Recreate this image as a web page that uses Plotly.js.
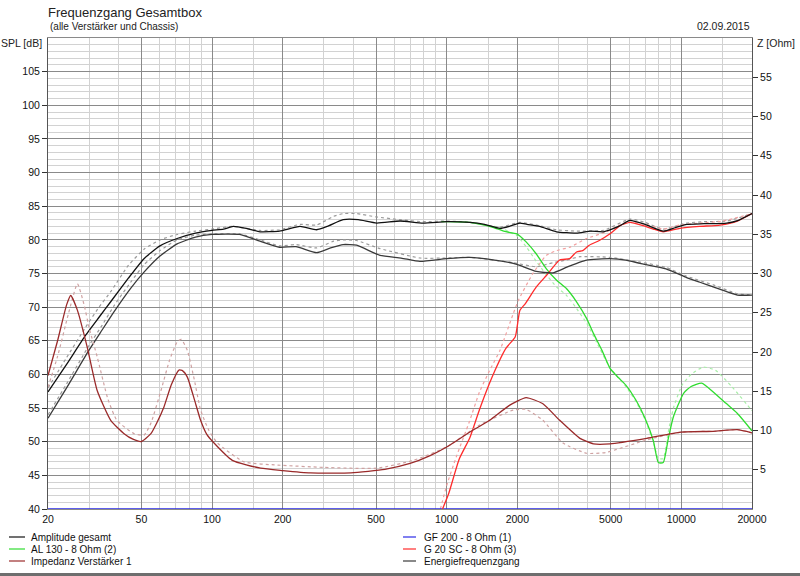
<!DOCTYPE html>
<html>
<head>
<meta charset="utf-8">
<script src="https://cdn.plot.ly/plotly-3.0.1.min.js"></script>
<style>html,body{margin:0;padding:0;background:#fff;}#chart{width:800px;height:576px;}</style>
</head>
<body>
<div id="chart"></div>
<script>
// ---------- data ----------
const ampFreq = [20, 24, 28.9, 33, 37, 44, 51.3, 60, 71, 85, 100, 112, 123, 140, 160, 194, 237, 279, 310, 362, 420, 503, 633, 792, 1000, 1255, 1450, 1687, 1850, 2050, 2200, 2488, 2939, 3575, 4100, 4646, 5400, 6040, 7000, 8370, 9400, 10530, 12500, 15600, 17500, 20000];
const ampSpl  = [57.4, 61.5, 65.8, 68.5, 70.8, 74.3, 77.2, 79.1, 80.2, 81.0, 81.4, 81.6, 82.0, 81.7, 81.2, 81.3, 82.0, 81.5, 82.0, 83.0, 83.0, 82.5, 82.8, 82.5, 82.7, 82.6, 82.3, 81.7, 82.0, 82.5, 82.3, 82.0, 81.2, 81.0, 81.3, 81.2, 82.0, 82.9, 82.3, 81.3, 81.8, 82.3, 82.4, 82.5, 82.9, 83.9];

const ampRefFreq = [20, 24, 28.9, 33, 37, 44, 51.3, 60, 71, 85, 100, 123, 160, 194, 237, 279, 330, 362, 413, 503, 633, 792, 1000, 1255, 1687, 2050, 2488, 2939, 3575, 4646, 6040, 7000, 8370, 10530, 12500, 15600, 20000];
const ampRefSpl  = [58.0, 62.5, 67.0, 70.0, 72.3, 76.2, 78.6, 80.0, 80.8, 81.3, 81.6, 82.0, 81.4, 81.5, 82.3, 82.2, 83.5, 83.9, 83.9, 83.4, 83.0, 82.7, 82.8, 82.6, 81.9, 82.6, 82.1, 81.5, 81.3, 81.4, 83.1, 82.6, 81.6, 82.5, 82.7, 82.8, 83.9];

const enFreq = [20, 24, 29.9, 34, 38.2, 45, 51.3, 60, 71, 85, 100, 131, 160, 194, 228, 279, 320, 362, 413, 520, 640, 769, 1000, 1255, 1600, 1922, 2050, 2410, 2830, 3230, 3697, 3950, 4965, 5800, 6670, 8600, 10530, 12000, 13670, 17330, 20000];
const enSpl  = [53.5, 58.0, 63.6, 66.6, 69.3, 72.8, 75.2, 77.6, 79.4, 80.4, 80.8, 80.8, 79.8, 78.9, 79.0, 78.1, 78.8, 79.3, 79.2, 77.7, 77.3, 76.8, 77.2, 77.4, 77.0, 76.5, 76.2, 75.3, 75.1, 75.9, 76.7, 77.0, 77.2, 77.0, 76.5, 75.7, 74.4, 73.7, 73.0, 71.8, 71.8];

const enRefFreq = [20, 24, 29.9, 34, 38.2, 45, 51.3, 60, 71, 85, 100, 131, 160, 194, 228, 279, 330, 362, 413, 520, 769, 1000, 1255, 1922, 2410, 2830, 3230, 3697, 4965, 6670, 8600, 10530, 13670, 17330, 20000];
const enRefSpl  = [54.0, 58.6, 64.3, 67.3, 70.2, 73.7, 76.3, 78.4, 80.0, 80.7, 80.9, 80.9, 80.0, 79.1, 79.3, 78.8, 79.8, 80.0, 79.9, 78.7, 77.3, 77.3, 77.4, 76.6, 76.0, 76.6, 77.0, 77.5, 77.4, 76.7, 75.9, 74.6, 73.3, 72.0, 71.8];

const midFreq = [950, 1000, 1255, 1400, 1560, 1750, 1922, 1990, 2180, 2410, 2660, 2940, 3230, 3575, 3950, 4220, 4600, 4965, 5400, 5800, 6400, 7000, 7590, 7980, 8370, 8800, 9250, 10220, 11000, 12200, 13670, 15500, 17330, 19900, 20000];
const midSpl  = [82.7, 82.7, 82.6, 82.3, 81.9, 81.3, 81.0, 80.9, 79.7, 77.9, 75.7, 74.0, 72.8, 70.8, 68.3, 66.1, 63.5, 60.9, 59.5, 58.4, 56.2, 53.5, 50.2, 46.9, 46.9, 50.5, 53.7, 57.2, 58.2, 58.7, 57.4, 55.7, 54.2, 51.7, 51.6];

const midRefFreq = [1255, 1687, 1990, 2180, 2410, 2660, 2940, 3230, 3575, 3950, 4220, 4965, 5800, 6400, 7000, 7590, 7980, 8370, 8800, 9250, 10060, 11000, 12400, 14000, 16400, 19900, 20000];
const midRefSpl  = [82.6, 81.8, 80.6, 79.0, 76.8, 74.8, 73.0, 71.8, 69.8, 67.6, 65.7, 61.0, 58.2, 56.0, 53.3, 50.0, 47.5, 47.5, 51.5, 55.0, 58.4, 60.0, 61.1, 60.6, 58.2, 54.7, 54.6];

const twFreq = [960, 1020, 1130, 1255, 1380, 1570, 1790, 1960, 2050, 2160, 2410, 2660, 3030, 3340, 3575, 3800, 4050, 4470, 4965, 5480, 6040, 6880, 7600, 8370, 9840, 11940, 14600, 17330, 20000];
const twSpl  = [40.0, 42.3, 47.4, 50.6, 54.8, 59.8, 63.9, 65.6, 69.5, 70.5, 73.0, 74.7, 77.0, 77.2, 78.2, 78.4, 79.2, 79.9, 80.9, 82.1, 82.6, 82.1, 81.6, 81.2, 81.7, 82.0, 82.2, 82.8, 83.9];

const twRefFreq = [940, 1000, 1100, 1250, 1380, 1520, 1687, 1920, 2020, 2330, 2660, 2940, 3340, 3950, 4800, 5800, 6880, 8370, 9840, 12000, 15000, 20000];
const twRefSpl  = [40.0, 43.5, 47.8, 53.0, 57.4, 60.5, 63.6, 69.0, 71.0, 75.0, 77.7, 78.4, 78.9, 80.2, 81.2, 82.6, 82.4, 81.6, 82.2, 82.5, 82.8, 83.9];

const wooferFreq = [20, 20000];
const wooferSpl  = [40, 40];

const impFreq = [20, 22, 24, 25, 26.7, 29.4, 32.4, 37, 42.2, 46, 50, 54.9, 58, 62.4, 67, 72.3, 75, 78.5, 84, 89.4, 95, 102, 122, 161, 200, 263, 391, 545, 698, 850, 1000, 1255, 1525, 1850, 2180, 2570, 3030, 3697, 4220, 4965, 7120, 9950, 13670, 17330, 20000];
const impOhm  = [17.0, 21.5, 26.0, 27.2, 25.3, 20.6, 15.1, 11.3, 9.6, 8.9, 8.6, 9.6, 10.9, 13.0, 15.8, 17.7, 17.6, 16.8, 14.0, 11.3, 9.5, 8.4, 6.2, 5.2, 4.9, 4.6, 4.6, 5.05, 5.8, 6.8, 7.9, 9.8, 11.3, 13.2, 14.2, 13.4, 11.3, 9.0, 8.3, 8.3, 9.0, 9.8, 9.9, 10.1, 9.7];

const impRefFreq = [20, 22, 24.5, 26.7, 28.5, 30, 32.4, 36, 39.3, 46.5, 51.3, 55, 60.6, 66, 71.1, 74, 78.5, 84, 89.4, 97, 105.5, 137, 190, 300, 505, 722, 1000, 1380, 1922, 2180, 2570, 3130, 3950, 4770, 7120, 9950, 13670, 17330, 20000];
const impRefOhm  = [15.5, 19.5, 25.0, 28.7, 26.0, 23.0, 19.4, 14.0, 11.3, 9.6, 9.4, 11.0, 15.1, 19.0, 21.3, 21.6, 20.2, 16.5, 12.6, 10.0, 8.4, 6.0, 5.6, 5.3, 5.2, 6.2, 7.9, 10.7, 12.6, 12.7, 11.3, 8.4, 7.1, 7.2, 8.8, 9.8, 9.9, 10.1, 9.7];

const xTickVals = [20, 50, 100, 200, 500, 1000, 2000, 5000, 10000, 20000];
const xTickText = ['20', '50', '100', '200', '500', '1000', '2000', '5000', '10000', '20000'];
const xMinorVals = [30, 40, 60, 70, 80, 90, 150, 300, 400, 600, 700, 800, 900, 1500, 3000, 4000, 6000, 7000, 8000, 9000, 15000];
const splTicks = [40, 45, 50, 55, 60, 65, 70, 75, 80, 85, 90, 95, 100, 105];
const ohmTicks = [5, 10, 15, 20, 25, 30, 35, 40, 45, 50, 55];

const legendNames = ['Amplitude gesamt', 'AL 130 - 8 Ohm (2)', 'Impedanz Verstärker 1', 'GF 200 - 8 Ohm (1)', 'G 20 SC - 8 Ohm (3)', 'Energiefrequenzgang'];

// ---------- styling ----------
const FONT = 'Liberation Sans, Arial, sans-serif';
const C = {
  amp: '#111111', en: '#3a3a3a', mid: '#2fdc2f', woofer: '#2a2ae6', tw: '#ff2b2b', imp: '#9a2a2a',
  greyRef: '#9a9a9a', midRef: '#a8eea8', twRef: '#f2a0a0', impRef: '#cfa2a2'
};
const W = 800, H = 576, L = 48, R = 752, T = 38, B = 509;
const px2x = p => (p - L) / (R - L);
const px2y = p => (B - p) / (B - T);

function tr(x, y, name, color, opts) {
  opts = opts || {};
  return {
    type: 'scatter', mode: 'lines', x: x, y: y, name: name,
    yaxis: opts.y2 ? 'y2' : 'y', showlegend: false, hoverinfo: 'skip',
    line: {color: color, width: opts.width || 1.3, dash: opts.dash || 'solid', shape: 'spline', smoothing: 0.5}
  };
}

const traces = [
  tr(impRefFreq, impRefOhm, 'Impedanz Ref', C.impRef, {y2: true, dash: 'dot', width: 1.2}),
  tr(enRefFreq, enRefSpl, 'Energie Ref', C.greyRef, {dash: 'dot', width: 1.2}),
  tr(ampRefFreq, ampRefSpl, 'Amplitude Ref', C.greyRef, {dash: 'dot', width: 1.2}),
  tr(midRefFreq, midRefSpl, 'AL 130 Ref', C.midRef, {dash: 'dot', width: 1.2}),
  tr(twRefFreq, twRefSpl, 'G 20 SC Ref', C.twRef, {dash: 'dot', width: 1.2}),
  tr(wooferFreq, wooferSpl, legendNames[3], C.woofer, {width: 1.6}),
  tr(midFreq, midSpl, legendNames[1], C.mid),
  tr(twFreq, twSpl, legendNames[4], C.tw),
  tr(enFreq, enSpl, legendNames[5], C.en),
  tr(ampFreq, ampSpl, legendNames[0], C.amp),
  tr(impFreq, impOhm, legendNames[2], C.imp, {y2: true})
];

// manual legend (two columns, three rows)
const legRowsY = [537, 549, 561];
const legCols = [{x0: 9, x1: 25, tx: 29}, {x0: 403, x1: 416, tx: 422}];
const legColors = [C.amp, C.mid, C.imp, C.woofer, C.tw, C.en];
const shapes = [];
const annotations = [];
legendNames.forEach((nm, i) => {
  const col = legCols[Math.floor(i / 3)], row = legRowsY[i % 3];
  shapes.push({type: 'line', xref: 'paper', yref: 'paper', x0: px2x(col.x0), x1: px2x(col.x1), y0: px2y(row), y1: px2y(row),
    line: {color: legColors[i], width: 1.2}});
  annotations.push({xref: 'paper', yref: 'paper', x: px2x(col.tx), y: px2y(row), xanchor: 'left', yanchor: 'middle',
    text: nm, showarrow: false, font: {family: FONT, size: 10, color: '#111'}});
});
// bottom window border
shapes.push({type: 'rect', xref: 'paper', yref: 'paper', x0: px2x(0), x1: px2x(W), y0: px2y(573), y1: px2y(577),
  fillcolor: '#6e6e6e', line: {width: 0}});

annotations.push(
  {xref: 'paper', yref: 'paper', x: px2x(48), y: px2y(26.5), xanchor: 'left', yanchor: 'middle', showarrow: false,
   text: '(alle Verstärker und Chassis)', font: {family: FONT, size: 10, color: '#222'}},
  {xref: 'paper', yref: 'paper', x: px2x(752), y: px2y(26.5), xanchor: 'right', yanchor: 'middle', showarrow: false,
   text: '02.09.2015', font: {family: FONT, size: 10.5, color: '#222'}},
  {xref: 'paper', yref: 'paper', x: px2x(44), y: px2y(43), xanchor: 'right', yanchor: 'middle', showarrow: false,
   text: 'SPL [dB]', font: {family: FONT, size: 10.5, color: '#222'}},
  {xref: 'paper', yref: 'paper', x: px2x(755), y: px2y(43), xanchor: 'left', yanchor: 'middle', showarrow: false,
   text: 'Z [Ohm]', font: {family: FONT, size: 10.5, color: '#222'}}
);

const layout = {
  width: W, height: H,
  margin: {l: L, r: W - R, t: T, b: H - B, pad: 0},
  paper_bgcolor: '#ffffff', plot_bgcolor: '#ffffff',
  font: {family: FONT, size: 10.5, color: '#111'},
  showlegend: false,
  title: {text: 'Frequenzgang Gesamtbox', font: {family: FONT, size: 13, color: '#222'},
    xref: 'paper', x: 0, xanchor: 'left', yref: 'container', y: 1 - 12.7 / H, yanchor: 'middle'},
  xaxis: {
    type: 'log', range: [Math.log10(20), Math.log10(20000)],
    tickmode: 'array', tickvals: xTickVals, ticktext: xTickText,
    ticks: '', showgrid: true, gridcolor: '#8a8a8a', gridwidth: 1,
    minor: {tickmode: 'array', tickvals: xMinorVals, showgrid: true, gridcolor: '#d2d2d2', gridwidth: 1, ticks: ''},
    showline: true, linecolor: '#8a8a8a', linewidth: 1, mirror: true,
    zeroline: false, tickfont: {family: FONT, size: 10.5, color: '#111'}, fixedrange: true
  },
  yaxis: {
    range: [40, 110], tickmode: 'array', tickvals: splTicks,
    ticks: 'outside', ticklen: 5, tickcolor: '#333', tickwidth: 1,
    showgrid: true, gridcolor: '#8a8a8a', gridwidth: 1,
    minor: {tickmode: 'linear', tick0: 40, dtick: 1, showgrid: true, gridcolor: '#d2d2d2', gridwidth: 1, ticks: ''},
    showline: true, linecolor: '#555', linewidth: 1, mirror: true,
    zeroline: false, tickfont: {family: FONT, size: 10.5, color: '#111'}, fixedrange: true
  },
  yaxis2: {
    overlaying: 'y', side: 'right', range: [0, 60], tickmode: 'array', tickvals: ohmTicks,
    ticks: 'outside', ticklen: 5, tickcolor: '#333', tickwidth: 1,
    showgrid: false, zeroline: false, showline: true, linecolor: '#555', linewidth: 1,
    tickfont: {family: FONT, size: 10.5, color: '#111'}, fixedrange: true
  },
  shapes: shapes,
  annotations: annotations
};

Plotly.newPlot('chart', traces, layout, {staticPlot: true, displayModeBar: false});
</script>
</body>
</html>
